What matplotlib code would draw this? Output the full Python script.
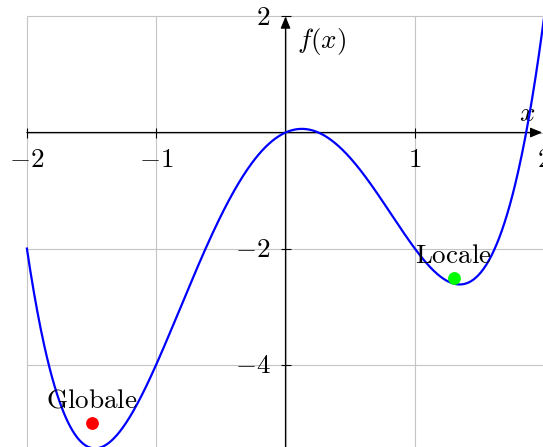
import numpy as np
import matplotlib
matplotlib.use("Agg")
import matplotlib.pyplot as plt

plt.rcParams['mathtext.fontset'] = 'cm'
plt.rcParams['font.family'] = 'serif'
plt.rcParams['font.serif'] = ['DejaVu Serif']

# f(x) = x^4 - 4x^2 + x
coeffs = [1, 0, -4, 1, 0]
x_min, x_max = -2, 2
y_min, y_max = -5.5, 2

xticks = [-2, -1, 1, 2]
yticks = [-4, -2, 2]
grid_x = [-2, -1, 0, 1, 2]
grid_y = [-4, -2, 0, 2]

points_x = [-1.5, 1.3]
points_y = [-5.0, -2.5]
points_lbl = ["Globale", "Locale"]
points_col = ["#ff0000", "#00ff00"]

fs = 19.5

fig = plt.figure(figsize=(5.43, 4.47), dpi=100)
ax = fig.add_axes([0, 0, 1, 1])
ax.set_xlim(-2.208, 1.991)
ax.set_ylim(-5.42, 2.284)
ax.axis('off')

grid_c = '#c4c4c4'
ax.vlines(grid_x, y_min, y_max, color=grid_c, lw=0.8, zorder=1)
ax.hlines(grid_y, x_min, x_max, color=grid_c, lw=0.8, zorder=1)

# axis lines with arrows
arr = dict(arrowstyle='-|>,head_length=0.6,head_width=0.25', color='black', lw=0.9,
           mutation_scale=12, shrinkA=0, shrinkB=0)
ax.annotate('', xy=(1.985, 0), xytext=(x_min, 0), arrowprops=arr, zorder=3)
ax.annotate('', xy=(0, y_max), xytext=(0, y_min), arrowprops=arr, zorder=3)

ax.plot(xticks, [0] * len(xticks), '|', color='black', ms=7, mew=0.8, zorder=3)
ax.plot([0] * len(yticks), yticks, '_', color='black', ms=7, mew=0.8, zorder=3)

def lab(t):
    return r'$%d$' % t if t > 0 else r'$-%d$' % abs(t)

for t in xticks:
    ax.annotate(lab(t), (t, 0), xytext=(0, -24.5), textcoords='offset points',
                ha='center', va='baseline', fontsize=fs, annotation_clip=False)
for t in yticks:
    ax.annotate(lab(t), (0, t), xytext=(-11, -6), textcoords='offset points',
                ha='right', va='baseline', fontsize=fs, annotation_clip=False)

ax.annotate(r'$x$', (1.87, 0), xytext=(0, 8), textcoords='offset points',
            ha='center', va='baseline', fontsize=fs)
ax.annotate(r'$f(x)$', (0, y_max), xytext=(8, -22.5), textcoords='offset points',
            ha='left', va='baseline', fontsize=fs)

xs = np.linspace(x_min, x_max, 600)
ax.plot(xs, np.polyval(coeffs, xs), color='#0000ff', lw=1.6, zorder=4)

for px, py, lbl, c in zip(points_x, points_y, points_lbl, points_col):
    ax.plot(px, py, 'o', color=c, ms=8.2, zorder=5)
    ax.annotate(r'$\mathrm{%s}$' % lbl, (px, py), xytext=(0, 10.8), textcoords='offset points',
                ha='center', va='baseline', fontsize=fs, zorder=6)

fig.savefig('out.png', dpi=100)
